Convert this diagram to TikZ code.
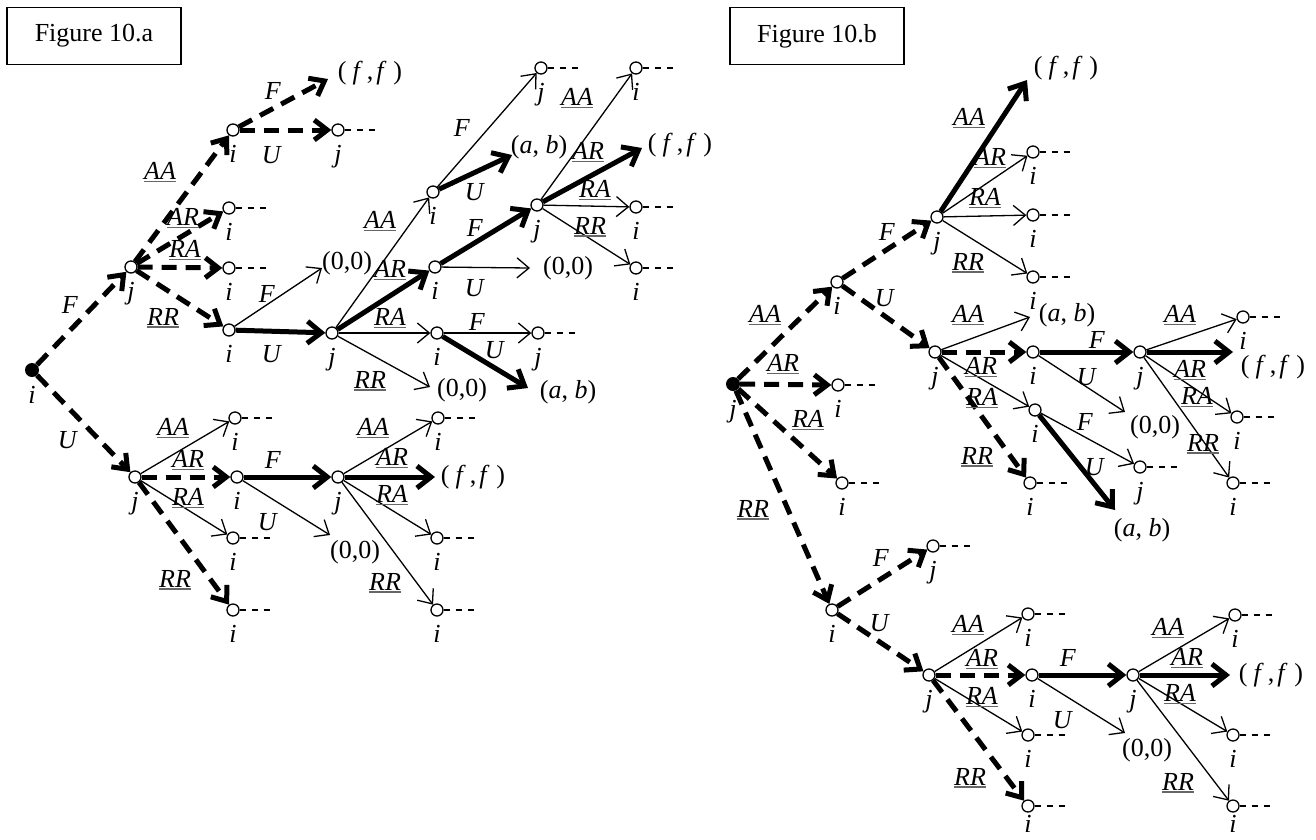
\documentclass[tikz,border=0pt]{standalone}
\usepackage{fontspec}
\setmainfont{Liberation Serif}
\usetikzlibrary{arrows.meta}
\newcommand{\uu}[1]{\setbox0=\hbox{\textit{#1}}\rlap{\color{black!60}\rule[-2.5pt]{\wd0}{1.3pt}}\box0}
\newcommand{\lAA}{\uu{A}\uu{A}}
\newcommand{\lAR}{\uu{A}\uu{R}}
\newcommand{\lRA}{\uu{R}\uu{A}}
\newcommand{\lRR}{\uu{R}\uu{R}}
\newcommand{\tff}{(\hspace{6pt}\textit{f}\hspace{4pt},\hspace{3pt}\textit{f}\hspace{7pt})}
\newcommand{\tab}{(\textit{a}, \textit{b})}
\begin{document}
\begin{tikzpicture}[x=1pt,y=-1pt,
  font=\fontsize{26}{30}\selectfont, label distance=8.5pt,
  circ/.style={circle,draw,fill=white,line width=1.3pt,minimum size=12pt,inner sep=0pt},
  rootn/.style={circle,fill=black,minimum size=14pt,inner sep=0pt},
  nl/.style={inner sep=0pt,font=\fontsize{26}{30}\selectfont\itshape},
  ci/.style={circ,label={[nl]below:i}},
  ciu/.style={circ,label={[nl,yshift=6pt]below:i}},
  cj/.style={circ,label={[nl]below:j}},
  ri/.style={rootn,label={[nl]below:i}},
  rj/.style={rootn,label={[nl]below:j}},
  lbl/.style={inner sep=0pt},
  txt/.style={inner sep=0pt},
  tarr/.style={line width=1.3pt,-{Straight Barb[length=12pt,width=20pt]}},
  barr/.style={line width=5pt,-{Straight Barb[length=14pt,width=22pt]}},
  darr/.style={line width=5pt,dash pattern=on 15pt off 9pt,-{Straight Barb[length=13pt,width=20pt]}},
  trail/.style={line width=1.4pt,dash pattern=on 6pt off 6pt},
  figbox/.style={draw,line width=1.3pt,minimum width=174pt,minimum height=57pt,inner sep=0pt}]
\useasboundingbox (0,0) rectangle (1316,839);

% ---------------- Figure 10.a ----------------
\node[figbox] (boxa) at (94,36) {Figure 10.a};

\node[ri] (a0) at (32,370) {};
\node[cj] (a1) at (131,267) {};
\node[ci] (a2) at (233,130) {};
\node[cj] (a3) at (338,130) {};
\node[ci] (a4) at (229,208) {};
\node[ci] (a5) at (229,268) {};
\node[ci] (a6) at (229,330) {};
\node[cj] (a7) at (332,333) {};
\node[ci] (a8) at (433,192) {};
\node[ci] (a9) at (435,267) {};
\node[ci] (a10) at (437,333) {};
\node[cj] (a11) at (541,68) {};
\node[cj] (a12) at (538,333) {};
\node[cj] (a13) at (537,205) {};
\node[ci] (a14) at (636,68) {};
\node[ci] (a15) at (636,207) {};
\node[ci] (a16) at (636,268) {};
\node[cj] (b1) at (135,477) {};
\node[ci] (b2) at (235,418) {};
\node[ci] (b3) at (237,477) {};
\node[ci] (b4) at (233,538) {};
\node[ci] (b5) at (233,610) {};
\node[cj] (b6) at (338,477) {};
\node[ci] (b7) at (438,418) {};
\node[ci] (b8) at (437,538) {};
\node[ci] (b9) at (437,610) {};

\coordinate (ff1t) at (328,79);  \node[txt] (ff1) at (370,73) {\tff};
\coordinate (z1t) at (322,268);  \node[txt] (z1) at (347,263) {(0,0)};
\coordinate (z2t) at (430,387);  \node[txt] (z2) at (462,390) {(0,0)};
\coordinate (ab1t) at (512,155); \node[txt] (ab1) at (539,147) {\tab};
\coordinate (z3t) at (530,268);  \node[txt] (z3) at (568,268) {(0,0)};
\coordinate (ab2t) at (528,388); \node[txt] (ab2) at (568,392) {\tab};
\coordinate (ff2t) at (642,148); \node[txt] (ff2) at (680,145) {\tff};
\coordinate (z4t) at (330,535);  \node[txt] (z4) at (355,552) {(0,0)};
\coordinate (ff3t) at (435,477); \node[txt] (ff3) at (473,477) {\tff};

\draw[darr] (a0) -- (a1);
\draw[darr] (a1) -- (a2);
\draw[darr] (a2) -- (ff1t);
\draw[darr] (a2) -- (a3);
\draw[darr] (a1) -- (a4);
\draw[darr] (a1) -- (a5);
\draw[darr] (a1) -- (a6);
\draw[tarr] (a6) -- (z1t);
\draw[barr] (a6) -- (a7);
\draw[tarr] (a7) -- (a8);
\draw[barr] (a7) -- (a9);
\draw[tarr] (a7) -- (a10);
\draw[tarr] (a7) -- (z2t);
\draw[tarr] (a8) -- (a11);
\draw[barr] (a8) -- (ab1t);
\draw[barr] (a9) -- (a13);
\draw[tarr] (a9) -- (z3t);
\draw[tarr] (a10) -- (a12);
\draw[barr] (a10) -- (ab2t);
\draw[tarr] (a13) -- (a14);
\draw[barr] (a13) -- (ff2t);
\draw[tarr] (a13) -- (a15);
\draw[tarr] (a13) -- (a16);
\draw[darr] (a0) -- (b1);
\draw[tarr] (b1) -- (b2);
\draw[darr] (b1) -- (b3);
\draw[tarr] (b1) -- (b4);
\draw[darr] (b1) -- (b5);
\draw[barr] (b3) -- (b6);
\draw[tarr] (b3) -- (z4t);
\draw[tarr] (b6) -- (b7);
\draw[barr] (b6) -- (ff3t);
\draw[tarr] (b6) -- (b8);
\draw[tarr] (b6) -- (b9);

\node[lbl] (la1) at (70,305) {\textit{F}};
\node[lbl] (la2) at (160,172) {\lAA};
\node[lbl] (la3) at (273,91) {\textit{F}};
\node[lbl] (la4) at (272,155) {\textit{U}};
\node[lbl] (la5) at (183,218) {\lAR};
\node[lbl] (la6) at (185,250) {\lRA};
\node[lbl] (la7) at (163,318) {\lRR};
\node[lbl] (la8) at (267,294) {\textit{F}};
\node[lbl] (la9) at (272,354) {\textit{U}};
\node[lbl] (la10) at (380,221) {\lAA};
\node[lbl] (la11) at (390,270) {\lAR};
\node[lbl] (la12) at (390,318) {\lRA};
\node[lbl] (la13) at (370,381) {\lRR};
\node[lbl] (la14) at (462,128) {\textit{F}};
\node[lbl] (la15) at (475,192) {\textit{U}};
\node[lbl] (la16) at (475,228) {\textit{F}};
\node[lbl] (la17) at (475,288) {\textit{U}};
\node[lbl] (la18) at (477,322) {\textit{F}};
\node[lbl] (la19) at (495,350) {\textit{U}};
\node[lbl] (la20) at (577,98) {\lAA};
\node[lbl] (la21) at (588,152) {\lAR};
\node[lbl] (la22) at (595,190) {\lRA};
\node[lbl] (la23) at (590,227) {\lRR};
\node[lbl] (lb1) at (68,440) {\textit{U}};
\node[lbl] (lb2) at (173,428) {\lAA};
\node[lbl] (lb3) at (188,460) {\lAR};
\node[lbl] (lb4) at (188,498) {\lRA};
\node[lbl] (lb5) at (175,580) {\lRR};
\node[lbl] (lb6) at (273,460) {\textit{F}};
\node[lbl] (lb7) at (268,522) {\textit{U}};
\node[lbl] (lb8) at (373,428) {\lAA};
\node[lbl] (lb9) at (392,458) {\lAR};
\node[lbl] (lb10) at (392,495) {\lRA};
\node[lbl] (lb11) at (385,583) {\lRR};

% ---------------- Figure 10.b ----------------
\node[figbox] (boxb) at (817,36) {Figure 10.b};

\node[rj] (c0) at (733,384) {};
\node[ci] (c1) at (837,282) {};
\node[ci] (c2) at (838,385) {};
\node[ci] (c3) at (842,483) {};
\node[ci] (c4) at (832,610) {};
\node[cj] (c5) at (937,217) {};
\node[cj] (c6) at (935,352) {};
\node[ci] (c7) at (1033,152) {};
\node[ci] (c8) at (1033,215) {};
\node[ci] (c9) at (1033,277) {};
\node[ci] (c10) at (1033,352) {};
\node[ci] (c11) at (1035,410) {};
\node[ci] (c12) at (1030,483) {};
\node[cj] (c13) at (1140,352) {};
\node[cj] (c14) at (1140,467) {};
\node[ci] (c15) at (1243,317) {};
\node[ci] (c16) at (1237,417) {};
\node[ci] (c17) at (1233,483) {};
\node[cj] (d1) at (933,546) {};
\node[cj] (d2) at (929,675) {};
\node[ci] (d3) at (1028,614) {};
\node[ci] (d4) at (1032,675) {};
\node[ci] (d5) at (1028,735) {};
\node[ciu] (d6) at (1028,806) {};
\node[cj] (d7) at (1133,675) {};
\node[ci] (d8) at (1235,615) {};
\node[ci] (d9) at (1233,735) {};
\node[ciu] (d10) at (1233,806) {};

\coordinate (ff4t) at (1027,80);  \node[txt] (ff4) at (1066,68) {\tff};
\coordinate (ab3t) at (1030,317); \node[txt] (ab3) at (1067,315) {\tab};
\coordinate (z5t) at (1125,412);  \node[txt] (z5) at (1155,427) {(0,0)};
\coordinate (ab4t) at (1115,510); \node[txt] (ab4) at (1142,530) {\tab};
\coordinate (ff5t) at (1233,352); \node[txt] (ff5) at (1273,367) {\tff};
\coordinate (z6t) at (1125,733);  \node[txt] (z6) at (1147,750) {(0,0)};
\coordinate (ff6t) at (1230,675); \node[txt] (ff6) at (1271,675) {\tff};

\draw[darr] (c0) -- (c1);
\draw[darr] (c0) -- (c2);
\draw[darr] (c0) -- (c3);
\draw[darr] (c0) -- (c4);
\draw[darr] (c1) -- (c5);
\draw[darr] (c1) -- (c6);
\draw[barr] (c5) -- (ff4t);
\draw[tarr] (c5) -- (c7);
\draw[tarr] (c5) -- (c8);
\draw[tarr] (c5) -- (c9);
\draw[tarr] (c6) -- (ab3t);
\draw[darr] (c6) -- (c10);
\draw[tarr] (c6) -- (c11);
\draw[darr] (c6) -- (c12);
\draw[barr] (c10) -- (c13);
\draw[tarr] (c10) -- (z5t);
\draw[tarr] (c11) -- (c14);
\draw[barr] (c11) -- (ab4t);
\draw[tarr] (c13) -- (c15);
\draw[barr] (c13) -- (ff5t);
\draw[tarr] (c13) -- (c16);
\draw[tarr] (c13) -- (c17);
\draw[darr] (c4) -- (d1);
\draw[darr] (c4) -- (d2);
\draw[tarr] (d2) -- (d3);
\draw[darr] (d2) -- (d4);
\draw[tarr] (d2) -- (d5);
\draw[darr] (d2) -- (d6);
\draw[barr] (d4) -- (d7);
\draw[tarr] (d4) -- (z6t);
\draw[tarr] (d7) -- (d8);
\draw[barr] (d7) -- (ff6t);
\draw[tarr] (d7) -- (d9);
\draw[tarr] (d7) -- (d10);

\node[lbl] (lc1) at (765,315) {\lAA};
\node[lbl] (lc2) at (783,364) {\lAR};
\node[lbl] (lc3) at (808,420) {\lRA};
\node[lbl] (lc4) at (753,510) {\lRR};
\node[lbl] (lc5) at (887,232) {\textit{F}};
\node[lbl] (lc6) at (885,298) {\textit{U}};
\node[lbl] (lc7) at (969,118) {\lAA};
\node[lbl] (lc8) at (990,158) {\lAR};
\node[lbl] (lc9) at (985,198) {\lRA};
\node[lbl] (lc10) at (968,263) {\lRR};
\node[lbl] (lc11) at (968,315) {\lAA};
\node[lbl] (lc12) at (981,367) {\lAR};
\node[lbl] (lc13) at (982,398) {\lRA};
\node[lbl] (lc14) at (977,457) {\lRR};
\node[lbl] (lc15) at (1097,340) {\textit{F}};
\node[lbl] (lc16) at (1087,377) {\textit{U}};
\node[lbl] (lc17) at (1085,422) {\textit{F}};
\node[lbl] (lc18) at (1095,467) {\textit{U}};
\node[lbl] (lc19) at (1180,315) {\lAA};
\node[lbl] (lc20) at (1190,370) {\lAR};
\node[lbl] (lc21) at (1197,397) {\lRA};
\node[lbl] (lc22) at (1203,444) {\lRR};
\node[lbl] (ld1) at (881,558) {\textit{F}};
\node[lbl] (ld2) at (880,623) {\textit{U}};
\node[lbl] (ld3) at (968,625) {\lAA};
\node[lbl] (ld4) at (982,659) {\lAR};
\node[lbl] (ld5) at (982,697) {\lRA};
\node[lbl] (ld6) at (970,778) {\lRR};
\node[lbl] (ld7) at (1068,658) {\textit{F}};
\node[lbl] (ld8) at (1063,720) {\textit{U}};
\node[lbl] (ld9) at (1168,628) {\lAA};
\node[lbl] (ld10) at (1187,658) {\lAR};
\node[lbl] (ld11) at (1180,694) {\lRA};
\node[lbl] (ld12) at (1178,783) {\lRR};

% trailing dashes
\foreach \n in {a3,a4,a5,a11,a12,a14,a15,a16,b2,b4,b5,b7,b8,b9,
                c2,c3,c7,c8,c9,c12,c14,c15,c16,c17,d1,d3,d5,d6,d8,d9,d10}
  \draw[trail] (\n.east) -- ++(30,0);
\end{tikzpicture}
\end{document}
